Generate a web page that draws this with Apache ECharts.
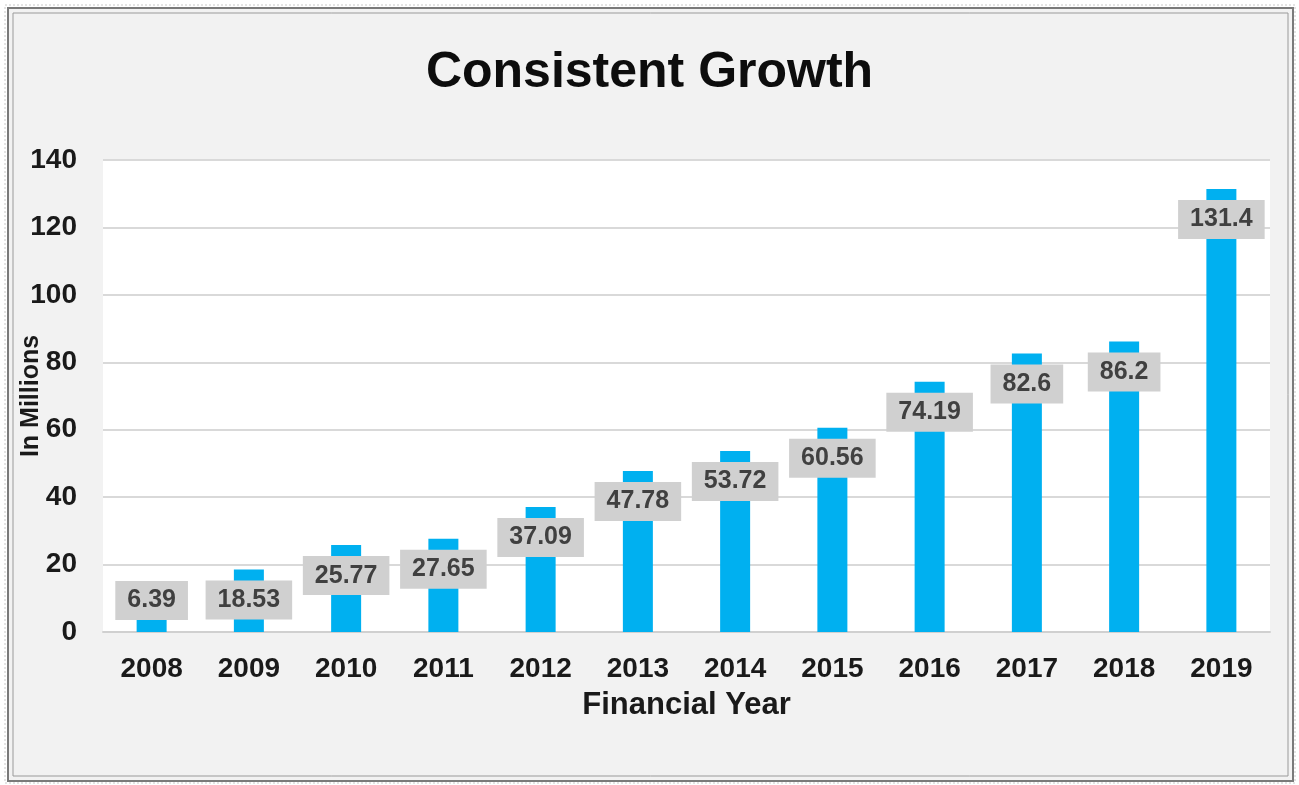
<!DOCTYPE html>
<html>
<head>
<meta charset="utf-8">
<script src="https://cdn.jsdelivr.net/npm/echarts@6/dist/echarts.min.js"></script>
<style>
html,body{margin:0;padding:0;background:#fff;}
#c{width:1299px;height:785px;}
</style>
</head>
<body>
<div id="c"></div>
<script>
const years = ['2008','2009','2010','2011','2012','2013','2014','2015','2016','2017','2018','2019'];
const revenue = [6.39, 18.53, 25.77, 27.65, 37.09, 47.78, 53.72, 60.56, 74.19, 82.6, 86.2, 131.4];
const titleText = 'Consistent Growth';
const xName = 'Financial Year';
const yName = 'In Millions';

const FONT = '"Liberation Sans", Arial, sans-serif';
const chart = echarts.init(document.getElementById('c'), null, {renderer: 'canvas'});

const barData = revenue.map((v, i) => {
  const item = {value: v};
  if (i === 0) {
    item.label = {position: 'insideBottom', distance: 12};
  }
  return item;
});

chart.setOption({
  backgroundColor: '#ffffff',
  animation: false,
  graphic: [
    {type: 'rect', z: -10, shape: {x: 5, y: 5, width: 1290, height: 778}, style: {fill: 'none', stroke: '#c8c8c8', lineWidth: 1, lineDash: [2, 2]}},
    {type: 'rect', z: -10, shape: {x: 8, y: 8, width: 1285, height: 773}, style: {fill: '#f2f2f2', stroke: '#7a7a7a', lineWidth: 2}},
    {type: 'rect', z: -9, shape: {x: 13, y: 13, width: 1275, height: 763}, style: {fill: '#f2f2f2', stroke: '#9a9a9a', lineWidth: 1}}
  ],
  title: {
    text: titleText,
    left: 'center',
    top: 42,
    textStyle: {fontFamily: FONT, fontSize: 50, fontWeight: 'bold', color: '#0d0d0d', lineHeight: 52}
  },
  grid: {
    left: 103, right: 29, top: 160, bottom: 153,
    containLabel: false,
    outerBoundsMode: 'none',
    show: true, backgroundColor: '#ffffff', borderWidth: 0
  },
  xAxis: {
    type: 'category',
    data: years,
    name: xName,
    nameLocation: 'middle',
    nameGap: 58,
    nameMoveOverlap: false,
    nameTextStyle: {fontFamily: FONT, fontSize: 31, fontWeight: 'bold', color: '#1a1a1a'},
    axisLine: {show: true, lineStyle: {color: '#d0d0d0', width: 2}},
    axisTick: {show: false},
    axisLabel: {fontFamily: FONT, fontSize: 28, fontWeight: 'bold', color: '#1a1a1a', margin: 23}
  },
  yAxis: {
    type: 'value',
    min: 0, max: 140, interval: 20,
    name: yName,
    nameLocation: 'middle',
    nameGap: 59,
    nameMoveOverlap: false,
    nameTextStyle: {fontFamily: FONT, fontSize: 25, fontWeight: 'bold', color: '#1a1a1a'},
    axisLine: {show: false},
    axisTick: {show: false},
    axisLabel: {fontFamily: FONT, fontSize: 28, fontWeight: 'bold', color: '#1a1a1a', margin: 26},
    splitLine: {show: true, lineStyle: {color: '#d9d9d9', width: 2}}
  },
  series: [{
    type: 'bar',
    data: barData,
    barWidth: 30,
    itemStyle: {color: '#00b0f0'},
    label: {
      show: true,
      position: 'insideTop',
      distance: 11,
      fontFamily: FONT,
      fontSize: 25,
      fontWeight: 'bold',
      color: '#404040',
      lineHeight: 25,
      backgroundColor: '#d0d0d0',
      padding: [7, 12, 7, 12]
    }
  }]
});
</script>
</body>
</html>
